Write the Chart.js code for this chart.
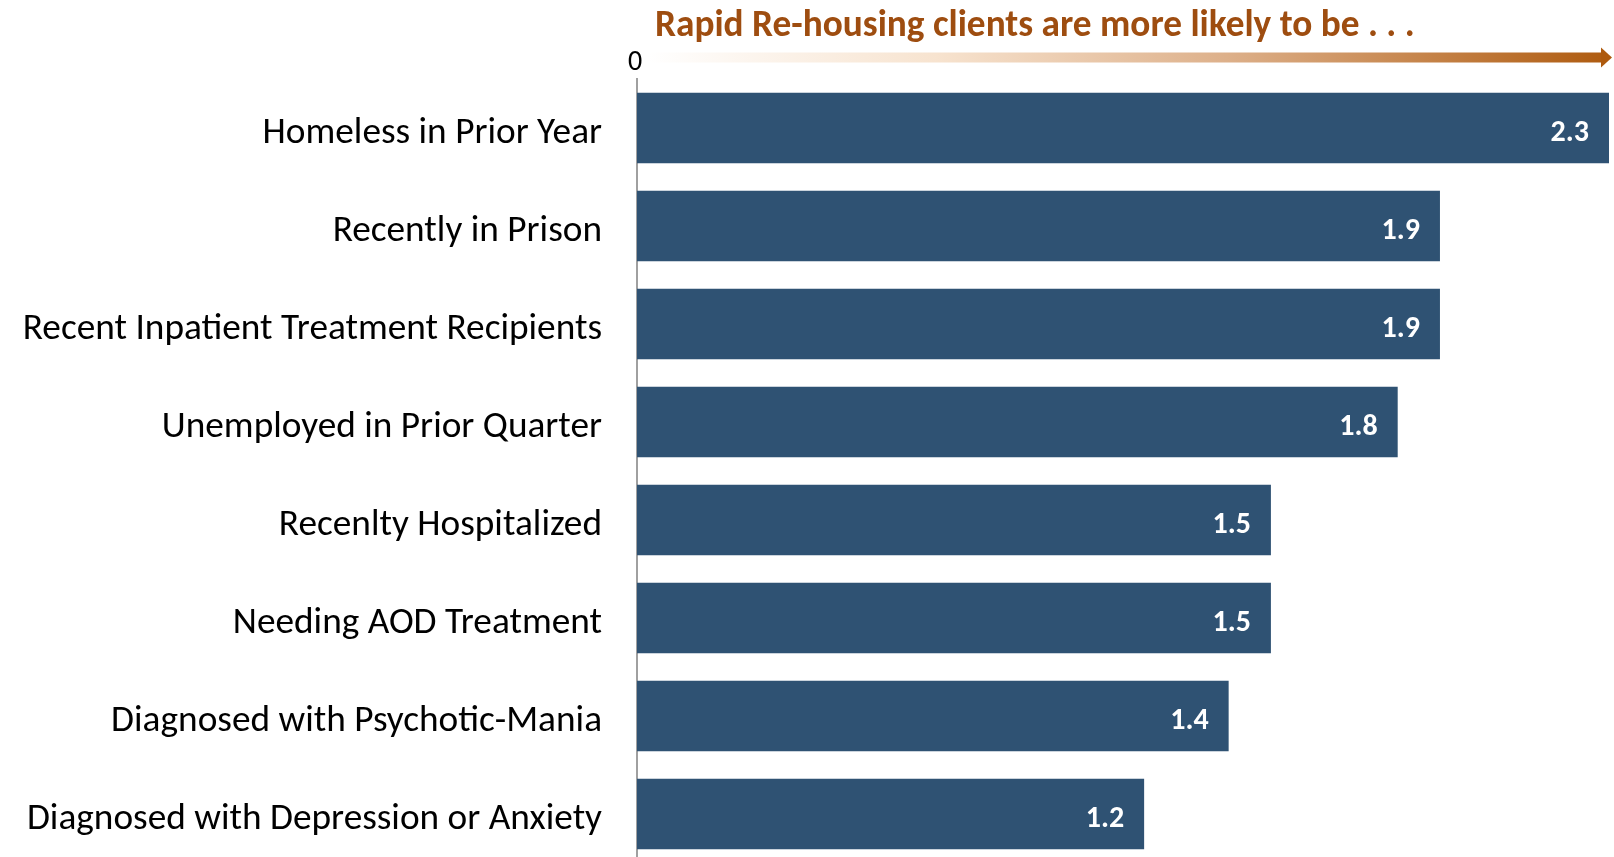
<!DOCTYPE html>
<html>
<head>
<meta charset="utf-8">
<script src="https://cdn.jsdelivr.net/npm/chart.js@4/dist/chart.umd.min.js"></script>
<style>
html,body{margin:0;padding:0;overflow:hidden;background:#fff;}
#wrap{width:1614px;height:863px;}
</style>
</head>
<body>
<div id="wrap"><canvas id="c" width="1614" height="863"></canvas></div>
<script>
const categories = [
  'Homeless in Prior Year',
  'Recently in Prison',
  'Recent Inpatient Treatment Recipients',
  'Unemployed in Prior Quarter',
  'Recenlty Hospitalized',
  'Needing AOD Treatment',
  'Diagnosed with Psychotic-Mania',
  'Diagnosed with Depression or Anxiety'
];
const values = [2.3, 1.9, 1.9, 1.8, 1.5, 1.5, 1.4, 1.2];
const valueLabels = ['2.3', '1.9', '1.9', '1.8', '1.5', '1.5', '1.4', '1.2'];
const titleText = 'Rapid Re-housing clients are more likely to be . . .';
const zeroLabel = '0';

const decorPlugin = {
  id: 'decor',
  afterDatasetsDraw(chart) {
    const ctx = chart.ctx;
    const meta = chart.getDatasetMeta(0);
    ctx.save();
    ctx.fillStyle = '#ffffff';
    ctx.font = 'bold 30px Carlito';
    ctx.textAlign = 'right';
    ctx.textBaseline = 'middle';
    meta.data.forEach((bar, i) => {
      ctx.fillText(valueLabels[i], bar.x - 20, bar.y + 5);
    });
    ctx.restore();
  },
  afterDraw(chart) {
    const ctx = chart.ctx;
    const xs = chart.scales.x;
    const x0 = xs.getPixelForValue(0);
    ctx.save();
    // title
    ctx.fillStyle = '#9E4D10';
    ctx.font = 'bold 37.3px Carlito';
    ctx.textAlign = 'left';
    ctx.textBaseline = 'alphabetic';
    ctx.fillText(titleText, 655, 36);
    // zero label
    ctx.fillStyle = '#000';
    ctx.font = '28px Carlito';
    ctx.textAlign = 'center';
    ctx.fillText(zeroLabel, x0 - 2, 70);
    // gradient arrow
    const xa = x0 + 11, xh = 1601, xt = 1612, yc = 57.5;
    const g = ctx.createLinearGradient(xa, 0, xt, 0);
    g.addColorStop(0, 'rgba(255,255,255,1)');
    g.addColorStop(0.3, '#F7E3CF');
    g.addColorStop(0.6, '#DDB08A');
    g.addColorStop(0.85, '#C07A3C');
    g.addColorStop(1, '#AE5A0E');
    ctx.fillStyle = g;
    ctx.fillRect(xa, yc - 5, xh - xa, 10);
    ctx.beginPath();
    ctx.moveTo(xh, yc - 10);
    ctx.lineTo(xt, yc);
    ctx.lineTo(xh, yc + 10);
    ctx.closePath();
    ctx.fillStyle = '#AE5A0E';
    ctx.fill();
    ctx.restore();
  }
};

new Chart(document.getElementById('c'), {
  type: 'bar',
  data: {
    labels: categories,
    datasets: [{
      data: values,
      backgroundColor: '#2F5273',
      borderWidth: 0,
      barPercentage: 0.72,
      categoryPercentage: 1.0
    }]
  },
  options: {
    indexAxis: 'y',
    responsive: false,
    animation: false,
    layout: { padding: { top: 79, right: 5, left: 0, bottom: 0 } },
    plugins: { legend: { display: false }, tooltip: { enabled: false }, title: { display: false } },
    scales: {
      x: {
        display: false,
        min: 0,
        max: 2.3,
        grid: { display: false }
      },
      y: {
        afterFit(s) { s.width = 637; s.paddingTop = 0; s.paddingBottom = 0; },
        grid: { display: false, drawTicks: false },
        border: { display: true, color: '#A0A0A0', width: 2 },
        ticks: {
          color: '#000',
          font: { family: 'Carlito', size: 37.3 },
          padding: 35,
          labelOffset: 6
        }
      }
    }
  },
  plugins: [decorPlugin]
});
</script>
</body>
</html>
